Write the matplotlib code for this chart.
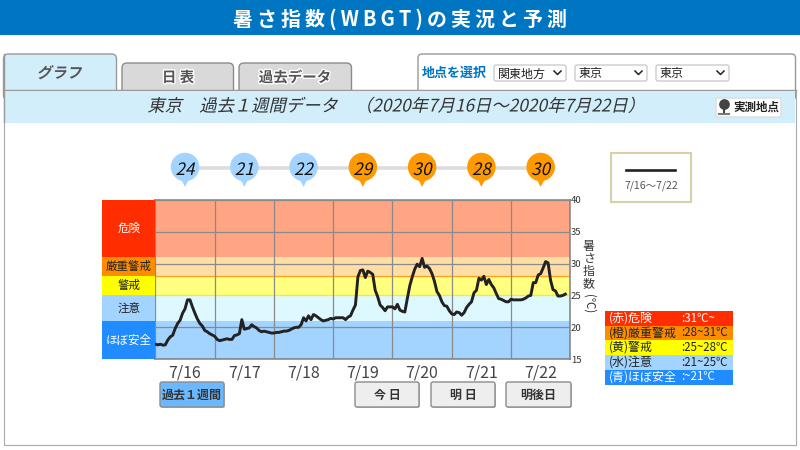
import matplotlib
matplotlib.use('Agg')
import matplotlib.pyplot as plt
from matplotlib.patches import FancyBboxPatch, Rectangle
from matplotlib.patheffects import AbstractPathEffect, withStroke
from matplotlib.transforms import Affine2D

plt.rcParams['font.family'] = ['Noto Sans CJK JP', 'DejaVu Sans']

# hourly values, one row per day
wbgt = [
    17.35, 17.25, 17.35, 17.2, 17.25, 18.0, 18.5, 18.75, 19.8, 20.6, 21.1, 22.2,
    22.9, 24.3, 24.3, 23.2, 22.2, 21.3, 20.6, 20.2, 19.5, 19.3, 19.0, 18.8,
    18.6, 18.1, 17.9, 18.0, 18.1, 18.2, 18.1, 18.1, 18.7, 18.8, 19.0, 21.2,
    19.7, 19.8, 19.9, 20.4, 20.1, 19.9, 19.5, 19.3, 19.4, 19.3, 19.2, 19.1,
    19.1, 19.2, 19.2, 19.3, 19.4, 19.4, 19.5, 19.7, 19.9, 20.0, 20.0, 20.4,
    21.5, 21.0, 21.8, 21.2, 22.0, 21.8, 21.5, 21.2, 21.0, 21.1, 21.2, 21.4,
    21.3, 21.5, 21.5, 21.5, 21.5, 21.2, 21.6, 21.8, 22.7, 23.5, 27.9, 28.9,
    29.0, 27.8, 28.8, 28.6, 28.3, 25.8, 24.8, 23.5, 23.1, 22.6, 23.2, 23.2,
    23.2, 22.9, 23.6, 22.7, 22.5, 22.4, 24.5, 26.5, 27.9, 29.1, 29.9, 29.5,
    30.8, 29.4, 29.6, 29.2, 28.4, 27.2, 25.6, 25.0, 24.0, 23.4, 23.3, 22.6,
    22.1, 22.0, 22.4, 22.3, 21.9, 22.3, 23.1, 23.6, 24.0, 25.4, 25.8, 27.7,
    27.4, 28.0, 26.7, 27.5, 26.7, 26.2, 25.3, 24.5, 24.4, 24.2, 24.0, 24.0,
    24.4, 24.3, 24.3, 24.3, 24.3, 24.4, 24.6, 24.9, 25.0, 27.0, 27.0, 28.2,
    28.4, 29.3, 30.3, 30.1, 27.4, 25.9, 25.7, 24.9, 24.9, 25.0, 25.2,
]
days = ['7/16', '7/17', '7/18', '7/19', '7/20', '7/21', '7/22']
peaks = [24, 21, 22, 29, 30, 28, 30]
peak_colors = ['#A3D3FF', '#A3D3FF', '#A3D3FF', '#FF9900', '#FF9900', '#FF9900', '#FF9900']

band_edges = [40, 31, 28, 25, 21, 15]
band_names = ['危険', '厳重警戒', '警戒', '注意', 'ほぼ安全']
band_colors = ['#FFA584', '#FFDEA6', '#FFFF80', '#DDF9FF', '#A3D3FF']
side_colors = ['#FF2D00', '#FF8C00', '#FFFF00', '#A3D3FF', '#218CFF']
side_text = ['white', '#222222', '#222222', '#222222', 'white']

key_labels = ['(赤)危険', '(橙)厳重警戒', '(黄)警戒', '(水)注意', '(青)ほぼ安全']
key_ranges = [':31℃~', ':28~31℃', ':25~28℃', ':21~25℃', ':~21℃']


class Skew(AbstractPathEffect):
    # CJK fonts have no italic, so lean the glyph outlines
    def draw_path(self, renderer, gc, tpath, affine, rgbFace=None):
        renderer.draw_path(gc, tpath, Affine2D().skew_deg(13, 0) + affine, rgbFace)


def px(v):
    return v * 0.72


def sub_axes(x0, y0, x1, y1):
    return fig.add_axes([x0 / 800, 1 - y1 / 450, (x1 - x0) / 800, (y1 - y0) / 450])


fig = plt.figure(figsize=(8, 4.5), dpi=100)

bg = fig.add_axes([0, 0, 1, 1])
bg.set_xlim(0, 800)
bg.set_ylim(450, 0)
bg.axis('off')


def box(x0, y0, x1, y1, fc, ec='#999999', lw=1.0, r=0.0, z=1):
    if r:
        p = FancyBboxPatch((x0 + r, y0 + r), x1 - x0 - 2 * r, y1 - y0 - 2 * r,
                           boxstyle='round,pad=%f,rounding_size=%f' % (r, r),
                           fc=fc, ec=ec, lw=lw, zorder=z)
    else:
        p = Rectangle((x0, y0), x1 - x0, y1 - y0, fc=fc, ec=ec, lw=lw, zorder=z)
    bg.add_patch(p)


def label(x, y, s, size, color='#222222', weight='normal', ha='center', **kw):
    return bg.text(x, y, s, fontsize=px(size), color=color, fontweight=weight,
                   ha=ha, va='center', zorder=6, **kw)


# header
box(0, 0, 800, 34.5, '#0075C2', ec='none')
label(400, 19, '\u200a\u200a'.join('暑さ指数(WBGT)の実況と予測'), 20, color='white', weight='bold')

# page frame and tabs
box(3.5, 90, 795.5, 445, 'white', ec='#AAAAAA', lw=0.8)
box(3.5, 54, 116.5, 100, '#D2EEFB', r=5, z=2)
box(122, 63, 233.5, 100, '#D9D9D9', ec='#8C8C8C', r=5, z=2)
box(239, 63, 351.5, 100, '#D9D9D9', ec='#8C8C8C', r=5, z=2)
box(418, 54, 795.5, 100, 'white', ec='#999999', r=4, z=2)
bg.plot([3.5, 795.5], [90, 90], color='#999999', lw=1.0, zorder=3)
box(4, 91, 795, 122.5, '#D2EEFB', ec='none', z=3)
bg.plot([3.5, 3.5], [54, 122], color='#999999', lw=1.0, zorder=3)

halo = [withStroke(linewidth=2, foreground='white')]
label(59, 73, 'グラフ', 15, color='#555555', weight='bold', path_effects=[Skew()])
label(178, 78, '日 表', 14.5, color='#555555', weight='bold', path_effects=halo)
label(295, 78, '過去データ', 14.5, color='#555555', weight='bold', path_effects=halo)

# selectors
label(454, 73, '地点を選択', 13, color='#0075C2', weight='bold')
for x0, x1, name in [(494, 566, '関東地方'), (575, 647, '東京'), (656, 729, '東京')]:
    box(x0, 65, x1, 81, 'white', ec='#CCCCCC', r=2, z=4)
    label(x0 + 4, 74, name, 12, ha='left')
    bg.plot([x1 - 12, x1 - 8.5, x1 - 5], [71, 74.5, 71], color='#222222', lw=1.1, zorder=6)

# strip title and station button
label(396, 106.5, '東京　過去１週間データ　（2020年7月16日～2020年7月22日）', 17.3,
      color='#333333', path_effects=[Skew()])
box(716, 98, 781, 117, 'white', ec='#DDDDDD', r=2, z=4)
bg.scatter([724], [104], s=45, color='#444444', zorder=6)
bg.plot([724, 724], [104, 113], color='#444444', lw=1.5, zorder=6)
bg.plot([719, 729], [113.5, 113.5], color='#777777', lw=1.5, zorder=6)
label(756, 107.5, '実測地点', 11.5, weight='bold')

# legend box
box(611, 152.5, 691, 202, 'white', ec='#D8D0A8', lw=1.5)
bg.plot([626, 675], [170, 170], color='#222222', lw=1.9)
label(651, 186, '7/16～7/22', 10.5, color='#555555')

# chart
ax = sub_axes(155.4, 199.7, 570.3, 359.2)
ax.set_xlim(0, 168)
ax.set_ylim(15, 40)
for i in range(len(band_names)):
    ax.axhspan(band_edges[i + 1], band_edges[i], color=band_colors[i], lw=0, zorder=0)
ax.axhline(28, color='#FF9F1E', lw=0.9, zorder=1)
ax.axhline(25, color='#FFEE00', lw=0.9, zorder=1)
ax.set_xticks(range(0, 169, 24))
ax.set_yticks([15, 20, 25, 30, 35, 40])
ax.set_yticklabels(['15', '20', '25', '30', '35', '40'], fontsize=px(9.5), color='#333333')
ax.tick_params(axis='both', length=0, labelbottom=False, labelleft=False,
               labelright=True, pad=0.5)
ax.grid(True, color='#8A8A8A', lw=0.9, zorder=2)
ax.set_axisbelow(False)
for ygl in ax.get_ygridlines()[2:3]:
    ygl.set_visible(False)
for s in ax.spines.values():
    s.set_color('#808080')
    s.set_linewidth(1.1)
ax.plot(range(len(wbgt)), wbgt, color='#222222', lw=2.1, solid_joinstyle='round', zorder=4)
for i, d in enumerate(days):
    ax.text(24 * i + 12, 14.2, d, fontsize=px(16), color='#444444', ha='center', va='top')

# side column
side = sub_axes(102, 199.7, 155.4, 359.2)
side.set_xlim(0, 1)
side.set_ylim(15, 40)
side.axis('off')
for i, name in enumerate(band_names):
    side.axhspan(band_edges[i + 1], band_edges[i], color=side_colors[i], lw=0)
    side.text(0.5, (band_edges[i] + band_edges[i + 1]) / 2, name, fontsize=px(11.5),
              color=side_text[i], ha='center', va='center')

# axis title
label(589, 265, '暑\nさ\n指\n数', 12, color='#333333', linespacing=0.95)
label(589, 304, '(℃)', 11.5, color='#333333', rotation=-90)

# daily peaks
pins = sub_axes(155.4, 145, 570.3, 195)
pins.set_xlim(0, 7)
pins.set_ylim(195, 145)
pins.axis('off')
centers = [i + 0.5 for i in range(len(peaks))]
pins.plot(centers, [168] * len(peaks), color='#DDDDDD', lw=2.6, zorder=1)
pins.scatter(centers, [181.5] * len(peaks), marker='v', s=62, color=peak_colors, lw=0, zorder=2)
pins.scatter(centers, [167] * len(peaks), s=px(28.5) ** 2, color=peak_colors, lw=0, zorder=3)
for c, v in zip(centers, peaks):
    pins.text(c, 170, str(v), fontsize=px(17), color='#111111', ha='center', va='center',
              path_effects=[Skew()], zorder=4)

# colour key
for i in range(len(key_labels)):
    y0 = 311 + 14.7 * i
    box(605, y0, 733, y0 + 14.7, side_colors[i], ec='none')
    label(609, y0 + 7, key_labels[i], 12, color=side_text[i], ha='left')
    label(681, y0 + 7, key_ranges[i], 11.5, color=side_text[i], ha='left')

# buttons
for x0, x1, name, fc in [(160, 224, '過去１週間', '#6CB8FF'), (355, 419, '今 日', '#EEEEEE'),
                         (431, 495, '明 日', '#EEEEEE'), (506, 571, '明後日', '#EEEEEE')]:
    box(x0 + 1, 383.5, x1 + 1, 408, '#BBBBBB', ec='none', r=2, z=3)
    box(x0, 382, x1, 407, fc, ec='#8C8C8C', r=2, z=4)
    label((x0 + x1) / 2, 395, name, 12, color='#333333', weight='bold')

fig.savefig('out.png', dpi=100)
